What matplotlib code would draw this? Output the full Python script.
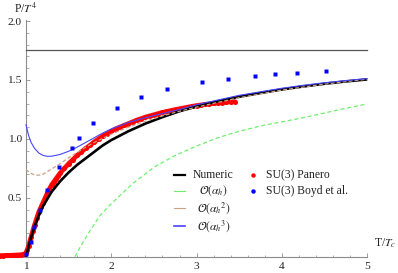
import matplotlib
matplotlib.use("Agg")
import matplotlib.pyplot as plt
import numpy as np

plt.rcParams['font.family'] = ['Liberation Serif', 'DejaVu Serif']
plt.rcParams['mathtext.fontset'] = 'stix'

# ---- data ----
sb_limit = 1.7546  # Stefan-Boltzmann limit

numeric_x = [1.0, 1.05, 1.1, 1.15, 1.2, 1.3, 1.4, 1.5, 1.6, 1.7, 1.8, 1.9, 2.0, 2.2, 2.4,
             2.6, 2.8, 3.0, 3.25, 3.5, 3.75, 4.0, 4.25, 4.5, 4.75, 5.0]
numeric_y = [0.0, 0.14, 0.255, 0.35, 0.43, 0.55, 0.64, 0.715, 0.78, 0.835, 0.89, 0.945, 0.99,
             1.065, 1.13, 1.185, 1.235, 1.275, 1.32, 1.358, 1.39, 1.42, 1.445, 1.468, 1.488, 1.505]

o1_x = [1.574, 1.65, 1.75, 1.868, 2.0, 2.25, 2.5, 2.75, 3.0, 3.25, 3.5, 3.75, 4.0, 4.25, 4.5, 4.75, 5.0]
o1_y = [0.0, 0.10, 0.22, 0.35, 0.45, 0.62, 0.76, 0.86, 0.94, 1.01, 1.065, 1.11, 1.145, 1.18, 1.22, 1.26, 1.297]

o2_x = [1.0, 1.05, 1.1, 1.15, 1.2, 1.3, 1.4, 1.5, 1.6, 1.7, 1.8, 2.0, 2.2, 2.4, 2.6, 2.8, 3.0, 3.5, 4.0, 4.5, 5.0]
o2_y = [0.74, 0.71, 0.695, 0.692, 0.70, 0.745, 0.79, 0.84, 0.885, 0.93, 0.97, 1.04, 1.10, 1.15,
        1.195, 1.235, 1.27, 1.35, 1.415, 1.465, 1.507]

o3_x = [1.0, 1.03, 1.06, 1.1, 1.15, 1.2, 1.25, 1.3, 1.4, 1.5, 1.6, 1.7, 1.8, 1.9, 2.0, 2.2, 2.4,
        2.6, 2.8, 3.0, 3.25, 3.5, 3.75, 4.0, 4.25, 4.5, 4.75, 5.0]
o3_y = [1.12, 1.03, 0.97, 0.92, 0.88, 0.86, 0.852, 0.853, 0.868, 0.895, 0.93, 0.97, 1.01, 1.05,
        1.085, 1.14, 1.18, 1.215, 1.25, 1.29, 1.33, 1.37, 1.40, 1.43, 1.455, 1.477, 1.495, 1.512]

panero_x = [0.70, 0.73, 0.76, 0.79, 0.82, 0.85, 0.88, 0.91, 0.94, 0.97, 0.99, 1.0, 1.015, 1.03,
            1.045, 1.06, 1.08, 1.1, 1.125, 1.15, 1.175, 1.2, 1.225, 1.25, 1.275, 1.3, 1.325, 1.35,
            1.375, 1.4, 1.45, 1.5, 1.55, 1.6, 1.65, 1.7, 1.75, 1.8, 1.85, 1.9, 1.95, 2.0, 2.05,
            2.1, 2.15, 2.2, 2.25, 2.3, 2.35, 2.4, 2.45, 2.5, 2.55, 2.6, 2.65, 2.7, 2.75, 2.8,
            2.85, 2.9, 2.95, 3.0, 3.05, 3.1, 3.15, 3.2, 3.25, 3.3, 3.35, 3.4, 3.45]
panero_y = [0.010, 0.010, 0.011, 0.011, 0.012, 0.013, 0.014, 0.015, 0.017, 0.020, 0.025, 0.035,
            0.06, 0.09, 0.13, 0.17, 0.22, 0.27, 0.325, 0.38, 0.42, 0.46, 0.50, 0.54, 0.575, 0.61,
            0.635, 0.66, 0.685, 0.71, 0.75, 0.79, 0.825, 0.86, 0.89, 0.92, 0.945, 0.975, 1.0,
            1.025, 1.045, 1.065, 1.085, 1.10, 1.115, 1.13, 1.145, 1.16, 1.172, 1.185, 1.195,
            1.205, 1.215, 1.225, 1.233, 1.241, 1.249, 1.256, 1.263, 1.27, 1.277, 1.283, 1.288,
            1.293, 1.297, 1.301, 1.305, 1.308, 1.311, 1.314, 1.316]

boyd_x = [1.0, 1.059, 1.097, 1.164, 1.25, 1.383, 1.535, 1.618, 1.789, 2.063, 2.348, 2.649,
          3.06, 3.372, 3.685, 3.919, 4.173, 4.517]
boyd_y = [0.023, 0.127, 0.255, 0.396, 0.566, 0.764, 0.925, 1.005, 1.132, 1.26, 1.353, 1.421,
          1.48, 1.506, 1.534, 1.548, 1.562, 1.576]

x_ticks = [1, 2, 3, 4, 5]
x_ticklabels = ["1", "2", "3", "4", "5"]
y_ticks = [0.5, 1.0, 1.5, 2.0]
y_ticklabels = ["0.5", "1.0", "1.5", "2.0"]

legend_lines = [r"Numeric", r"$\mathcal{O}(\alpha_h)$", r"$\mathcal{O}(\alpha_h{}^2)$",
                r"$\mathcal{O}(\alpha_h{}^3)$"]
legend_points = ["SU(3) Panero", "SU(3) Boyd et al."]

# ---- figure ----
W, H = 398, 273
fig = plt.figure(figsize=(W / 100, H / 100), dpi=100)
ax = fig.add_axes([0, 0, 1, 1])

def px_to_x(px):
    return 1 + (px - 26.0) / 85.3

def py_to_y(py):
    return (256.7 - py) / 117.8

ax.set_xlim(px_to_x(0), px_to_x(W))
ax.set_ylim(py_to_y(H), py_to_y(0))

c_green = '#6cf06c'
c_brown = '#c9a184'
c_blue = '#4646ff'

ax.plot([1, 5], [sb_limit, sb_limit], color='#555555', lw=0.9, zorder=2)
# dense lattice points form a thick red band
ax.plot(panero_x, panero_y, '-', color='#ff1010', lw=3.4, zorder=2, solid_capstyle='round')
ax.plot(panero_x, panero_y, 'o', color='#ff0000', ms=3.6, mec='none', zorder=2)
ax.plot(numeric_x, numeric_y, color='black', lw=1.9, zorder=3, solid_capstyle='butt')
ax.plot(o1_x, o1_y, color=c_green, lw=0.9, dashes=(3.2, 2.2), zorder=3)
ax.plot(o2_x, o2_y, color=c_brown, lw=0.9, dashes=(3.0, 1.8), zorder=3)
ax.plot(o3_x, o3_y, color=c_blue, lw=0.8, zorder=4)
ax.plot(boyd_x, boyd_y, 's', color='#0000ff', ms=2.9, mec='none', zorder=5)

# axes styling (Mathematica-like crossing axes)
for s in ['top', 'right']:
    ax.spines[s].set_visible(False)
axcol = '#8c8c8c'
ax.spines['left'].set_position(('data', 1.0))
ax.spines['bottom'].set_position(('data', 0.0))
ax.spines['left'].set_bounds(0, 2.01)
ax.spines['bottom'].set_bounds(px_to_x(0), 5.0)
for s in ['left', 'bottom']:
    ax.spines[s].set_color(axcol)
    ax.spines[s].set_linewidth(0.8)
    ax.spines[s].set_zorder(1)

ax.set_xticks(x_ticks)
ax.set_xticklabels(x_ticklabels)
ax.set_xticks([v for v in np.round(np.arange(1.2, 5.0, 0.2), 2) if abs(v - round(v)) > 1e-6], minor=True)
ax.set_yticks(y_ticks)
ax.set_yticklabels(y_ticklabels)
ax.set_yticks([v for v in np.round(np.arange(0.1, 2.0, 0.1), 2) if abs(v * 2 - round(v * 2)) > 1e-6], minor=True)
ax.tick_params(which='major', direction='in', length=3.2, width=0.6, color=axcol,
               labelsize=8.2, labelcolor='#222222')
ax.tick_params(which='minor', direction='in', length=1.8, width=0.5, color=axcol)
ax.tick_params(axis='x', which='major', pad=4)
ax.tick_params(axis='y', which='major', pad=3)

def fx(px):
    return px / W

def fy(py):
    return 1 - py / H

# axis labels
fig.text(fx(26), fy(9), r"P/$T^4$", ha='center', va='center', fontsize=8.4, color='#222222')
fig.text(fx(374), fy(243), r"T/$T_c$", ha='left', va='center', fontsize=8.4, color='#222222')

# legend
leg_y = [175, 191, 208, 226]
leg_cols = ['black', c_green, c_brown, c_blue]
leg_lw = [1.6, 0.8, 0.8, 1.2]
for yy, lab, col, lw in zip(leg_y, legend_lines, leg_cols, leg_lw):
    fig.add_artist(plt.Line2D([fx(174), fx(185)], [fy(yy), fy(yy)], color=col, lw=lw,
                              transform=fig.transFigure))
    fig.text(fx(213.5), fy(yy), lab, ha='center', va='center', fontsize=8.4, color='#222222')

pt_cols = ['#ff0000', '#0000ff']
for yy, lab, col in zip(leg_y[:2], legend_points, pt_cols):
    fig.add_artist(plt.Line2D([fx(252.7)], [fy(yy)], marker='o', ms=3.2, color=col, mec='none',
                              transform=fig.transFigure))
    fig.text(fx(266.5), fy(yy), lab, ha='left', va='center', fontsize=8.4, color='#222222')

fig.savefig("out.png", dpi=100)
